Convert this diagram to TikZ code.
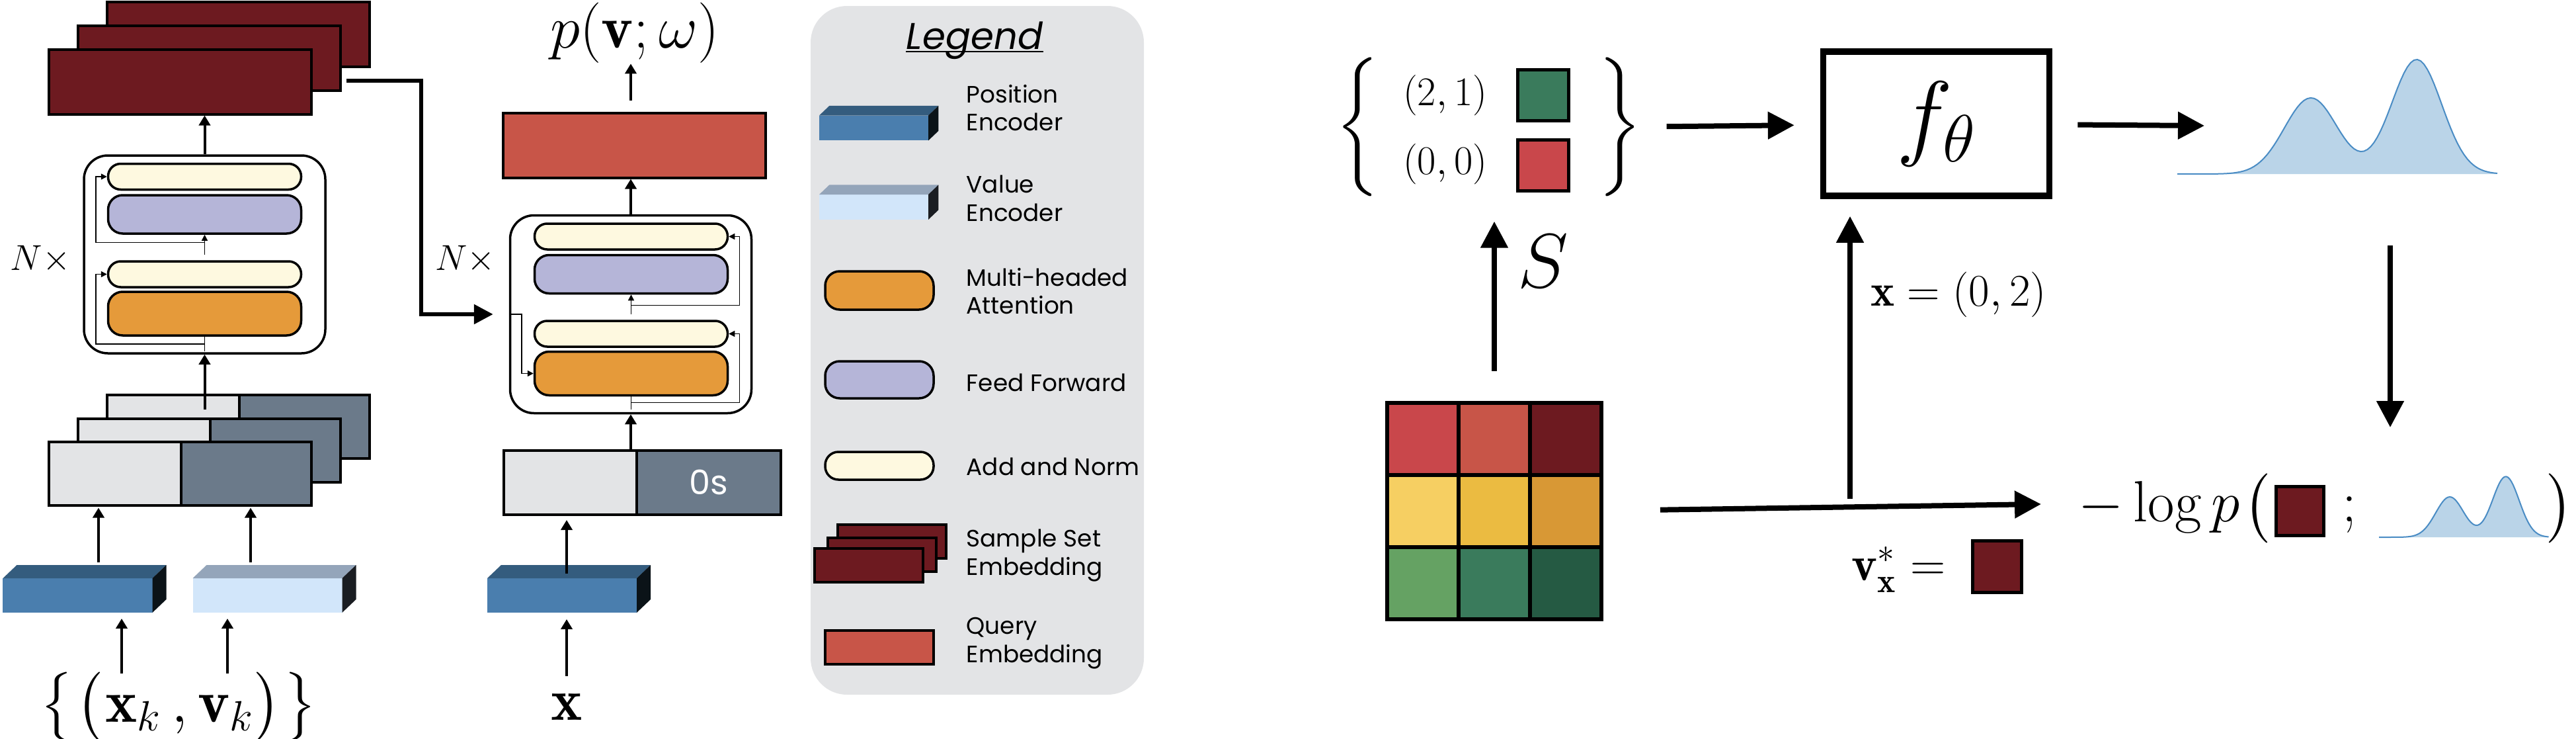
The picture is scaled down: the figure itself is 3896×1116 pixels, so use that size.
\documentclass[tikz,border=0pt]{standalone}
\usepackage{fix-cm}
\usepackage{exscale}
\usepackage{fontspec}
\newfontfamily\legfont{Poppins}
\usetikzlibrary{positioning,arrows.meta}

\definecolor{ssered}{RGB}{109,26,32}
\definecolor{qred}{RGB}{200,85,72}
\definecolor{anfill}{RGB}{254,249,224}
\definecolor{fffill}{RGB}{181,181,216}
\definecolor{mhafill}{RGB}{229,154,58}
\definecolor{lgray}{RGB}{227,228,230}
\definecolor{slate}{RGB}{107,122,138}
\definecolor{posfront}{RGB}{74,126,174}
\definecolor{postop}{RGB}{52,92,126}
\definecolor{posside}{RGB}{11,19,24}
\definecolor{valfront}{RGB}{210,230,250}
\definecolor{valtop}{RGB}{148,165,186}
\definecolor{valside}{RGB}{26,29,34}
\definecolor{densfill}{RGB}{186,212,232}
\definecolor{densline}{RGB}{74,140,196}
\definecolor{g11}{RGB}{201,71,75}
\definecolor{g12}{RGB}{200,85,72}
\definecolor{g13}{RGB}{109,26,32}
\definecolor{g21}{RGB}{246,207,98}
\definecolor{g22}{RGB}{235,187,65}
\definecolor{g23}{RGB}{216,152,53}
\definecolor{g31}{RGB}{101,162,99}
\definecolor{g32}{RGB}{58,123,92}
\definecolor{g33}{RGB}{37,90,67}

\newcommand{\bigdel}[1]{{\nulldelimiterspace=0pt\left#1\vrule height .85em depth .35em width 0pt\right.}}
\newcommand{\bigopen}[1]{\mathopen{\bigdel{#1}}}
\newcommand{\bigclose}[1]{\mathclose{\bigdel{#1}}}

\tikzset{
  slab/.pic={
    \fill[#1front] (-113,-26) rectangle (113,26);
    \fill[#1top] (-113,-26) -- (-92,-46) -- (134,-46) -- (113,-26) -- cycle;
    \fill[#1side] (113,-26) -- (134,-46) -- (134,6) -- (113,26) -- cycle;
    \coordinate (-s) at (0,26);
  },
  dens/.pic={
    \fill[densfill] (0,0) -- plot[domain=0:484,samples=97] (\x,{-bump(\x)}) -- (484,0) -- cycle;
    \draw[densline, line width=0.2mm] plot[domain=0:484,samples=97] (\x,{-bump(\x)});
  }
}

\begin{document}
\begin{tikzpicture}[x=0.1mm, y=-0.1mm,
  declare function={bump(\t)=115*exp(-min(20,((\t-202)/40)*((\t-202)/40)/2))+173*exp(-min(20,((\t-362)/38)*((\t-362)/38)/2));},
  txt/.style={inner sep=0},
  blk/.style={draw, line width=0.35mm, rounded corners=3.6mm, minimum width=36.5mm, minimum height=29.9mm, inner sep=0},
  an/.style={draw, line width=0.35mm, rounded corners=1.9mm, fill=anfill, minimum width=29.2mm, minimum height=3.9mm, inner sep=0},
  ff/.style={an, fill=fffill, rounded corners=2.2mm, minimum height=5.8mm},
  mha/.style={an, fill=mhafill, rounded corners=2.2mm, minimum height=6.6mm},
  sse/.style={draw, line width=0.4mm, fill=ssered, minimum width=39.7mm, minimum height=9.8mm, inner sep=0},
  half/.style={draw, line width=0.4mm, minimum height=9.6mm, inner sep=0, outer sep=0},
  sq/.style={draw, line width=0.5mm, minimum width=7.7mm, minimum height=7.7mm, inner sep=0},
  cell/.style={draw, line width=0.6mm, minimum width=10.8mm, minimum height=10.9mm, inner sep=0, outer sep=0},
  legtxt/.style={inner sep=0, align=left, font=\legfont\fontsize{10.2}{12.2}\selectfont},
  arr/.style={-{Triangle[length=1.5mm,width=1.7mm]}, line width=0.4mm},
  res/.style={line width=0.15mm},
  resarr/.style={res, -{Triangle[length=0.9mm,width=0.9mm]}},
  link/.style={line width=0.6mm, -{Triangle[length=2.9mm,width=2.9mm]}},
  bigarr/.style={line width=0.8mm, -{Triangle[length=4mm,width=4mm]}}]
\useasboundingbox (0,0) rectangle (3896,1116);

\node[sse] (ss3) at (360.5,52) {};
\node[sse] (ss2) at (316,87.5) {};
\node[sse] (ss1) at (272.5,123.5) {};

\node[blk] (enc) at (309.5,384.5) {};
\node[an] (ean2) at (309.5,267) {};
\node[ff] (eff) at (309.5,324) {};
\node[an] (ean1) at (309.5,414.5) {};
\node[mha] (emha) at (309.5,474) {};
\node[txt, font=\fontsize{15.5}{18}\selectfont, left=1.8mm of enc, yshift=-0.75mm] (en) {$N\times$};
\draw[res] (emha.south) -- ([yshift=-2.2mm]emha.south);
\draw[resarr] ([yshift=-1.1mm]emha.south) -| ([xshift=-1.7mm]ean1.west) -- (ean1.west);
\draw[resarr] ([yshift=0.8mm]ean1.north) -- (eff.south);
\draw[resarr] ([yshift=2.7mm]ean1.north) -| ([xshift=-1.7mm]ean2.west) -- (ean2.west);

\node[half, fill=lgray, minimum width=20mm] (cat3l) at (262,644.5) {};
\node[half, fill=slate, minimum width=19.7mm, right=0pt of cat3l] (cat3r) {};
\node[half, fill=lgray, minimum width=20mm] (cat2l) at (218,680.5) {};
\node[half, fill=slate, minimum width=19.7mm, right=0pt of cat2l] (cat2r) {};
\node[half, fill=lgray, minimum width=20mm] (cat1l) at (174,715.5) {};
\node[half, fill=slate, minimum width=19.7mm, right=0pt of cat1l] (cat1r) {};

\pic (pe) at (117.5,900) {slab=pos};
\pic (ve) at (404.5,900) {slab=val};
\node[txt, font=\fontsize{26}{31}\selectfont, anchor=base] (ctx) at (272,1091) {$\bigopen\{\bigopen(\mathbf{x}_k\,,\mathbf{v}_k\bigclose)\bigclose\}$};

\coordinate (xk) at (184,1018);
\coordinate (vk) at (344,1018);
\coordinate (pa) at (149,850);
\coordinate (va) at (379,850);
\coordinate (ein) at (309.5,619);
\draw[arr, shorten >=0.9mm] (xk) -- (xk |- pe-s);
\draw[arr, shorten >=0.9mm] (vk) -- (vk |- ve-s);
\draw[arr, shorten >=0.4mm] (pa) -- (pa |- cat1l.south);
\draw[arr, shorten >=0.4mm] (va) -- (va |- cat1r.south);
\draw[arr] (ein) -- (enc.south);
\draw[arr] (enc.north) -- (enc.north |- ss1.south);

\node[blk] (dec) at (954,475) {};
\node[an] (dan2) at (954.5,357.5) {};
\node[ff] (dff) at (954.5,414.5) {};
\node[an] (dan1) at (954.5,504.5) {};
\node[mha] (dmha) at (954.5,564.5) {};
\node[txt, font=\fontsize{15.5}{18}\selectfont, left=2mm of dec, yshift=8.3mm] (dn) {$N\times$};
\draw[res] (dmha.south) -- ([yshift=-2mm]dmha.south);
\draw[resarr] ([yshift=-0.9mm]dmha.south) -| ([xshift=1.6mm]dan1.east) -- (dan1.east);
\draw[resarr] ([yshift=0.8mm]dan1.north) -- (dff.south);
\draw[resarr] ([yshift=2.2mm]dan1.north) -| ([xshift=1.6mm]dan2.east) -- (dan2.east);
\draw[resarr] (dec.west) -| ([xshift=-1.8mm]dmha.west) -- (dmha.west);

\coordinate (bend) at (637,475);
\draw[link, shorten >=2.4mm] ([xshift=0.7mm,yshift=-3.45mm]ss2.east) -| (bend) -- (dec.west);

\node[sse, fill=qred] (query) at (959.5,219.5) {};
\node[txt, font=\fontsize{26}{31}\selectfont] (pv) at (960,50) {$p(\mathbf{v};\omega)$};
\draw[arr] (dec.north) -- (dec.north |- query.south);
\draw[arr, shorten <=1.7mm] (dec.north |- query.north) -- (dec.north |- pv.south);

\node[half, fill=lgray, minimum width=20.1mm, minimum height=9.7mm] (dcatl) at (862.5,729.5) {};
\node[half, fill=slate, minimum width=21.8mm, minimum height=9.7mm, right=0pt of dcatl, text=white, font=\legfont\fontsize{14.5}{17}\selectfont] (dcatr) {0s};
\draw[arr] (dec.south |- dcatl.north) -- (dec.south);
\pic (dpe) at (850,900) {slab=pos};
\coordinate (dpa) at (857,867);
\draw[arr, shorten >=0.8mm] (dpa) -- (dpa |- dcatl.south);
\node[txt, font=\fontsize{25.5}{30}\selectfont, anchor=base] (xq) at (857,1088) {$\mathbf{x}$};
\draw[arr, shorten <=2.6mm, shorten >=1mm] (xq.north) -- (xq.north |- dpe-s);

\node[fill=lgray, rounded corners=5.5mm, minimum width=50.4mm, minimum height=104.1mm, inner sep=0] (leg) at (1478,529.5) {};
\node[txt, font=\legfont\itshape\fontsize{16}{19}\selectfont, anchor=base] (legt) at (1474,75) {Legend};
\draw[line width=0.2mm] ([yshift=-0.3mm]legt.base west) -- ([yshift=-0.3mm]legt.base east);
\pic[scale=0.73] (lpe) at (1321.5,193.5) {slab=pos};
\pic[scale=0.73] (lve) at (1321.5,313) {slab=val};
\node[mha, minimum width=16.4mm, minimum height=5.8mm] (lmha) at (1330,439) {};
\node[ff, minimum width=16.4mm, minimum height=5.6mm] (lff) at (1330,574) {};
\node[an, minimum width=16.4mm, minimum height=4.2mm, rounded corners=2mm] (lan) at (1330,704) {};
\node[sse, minimum width=16.4mm, minimum height=5.1mm] (lss3) at (1349,818.5) {};
\node[sse, minimum width=16.4mm, minimum height=5.1mm] (lss2) at (1333.5,838.5) {};
\node[sse, minimum width=16.4mm, minimum height=5.1mm] (lss1) at (1314,854) {};
\node[sse, fill=qred, minimum width=16.4mm, minimum height=5.1mm] (lq) at (1330,978.5) {};
\node[legtxt, anchor=west] (lt1) at (1461,163) {Position\\Encoder};
\node[legtxt, anchor=west] (lt2) at (1461,300) {Value\\Encoder};
\node[legtxt, anchor=west] (lt3) at (1461,440) {Multi-headed\\Attention};
\node[legtxt, anchor=base west] (lt4) at (1461,591) {Feed Forward};
\node[legtxt, anchor=base west] (lt5) at (1461,718) {Add and Norm};
\node[legtxt, anchor=west] (lt6) at (1461,840) {Sample Set\\Embedding};
\node[legtxt, anchor=west] (lt7) at (1461,972) {Query\\Embedding};

\node[txt, font=\fontsize{17.5}{21}\selectfont] (p21) at (2185.5,144) {$(2,1)$};
\node[txt, font=\fontsize{17.5}{21}\selectfont] (p00) at (2185.5,248.5) {$(0,0)$};
\node[sq, fill=g32] (sg) at (2333.5,143.5) {};
\node[sq, fill=g11] (sr) at (2333.5,250) {};
\node[txt, font=\fontsize{32}{38}\selectfont] (lb) at (2055,192) {$\left\{\vrule height 37.3pt depth 21.3pt width 0pt\right.$};
\node[txt, font=\fontsize{32}{38}\selectfont] (rb) at (2448,192) {$\left.\vrule height 37.3pt depth 21.3pt width 0pt\right\}$};

\node[draw, line width=0.95mm, minimum width=34.2mm, minimum height=21.8mm, inner sep=0, font=\fontsize{41}{49}\selectfont] (fb) at (2928.5,187) {$f_\theta$};
\draw[bigarr, shorten <=3.7mm, shorten >=3.9mm] (rb) -- (fb);

\pic at (3293,263) {dens};
\coordinate (dtip) at (3334,190);
\draw[bigarr, shorten <=3.8mm] (fb) -- (dtip);

\node[cell, fill=g11] (c11) at (2152,663) {};
\node[cell, fill=g12, right=0pt of c11] (c12) {};
\node[cell, fill=g13, right=0pt of c12] (c13) {};
\node[cell, fill=g21, below=0pt of c11] (c21) {};
\node[cell, fill=g22, right=0pt of c21] (c22) {};
\node[cell, fill=g23, right=0pt of c22] (c23) {};
\node[cell, fill=g31, below=0pt of c21] (c31) {};
\node[cell, fill=g32, right=0pt of c31] (c32) {};
\node[cell, fill=g33, right=0pt of c32] (c33) {};

\draw[bigarr, shorten <=4.8mm, shorten >=3.7mm] (c12.north) -- (c12.north |- lb.south);
\node[txt, font=\fontsize{33}{40}\selectfont] (slbl) at (2334,395) {$S$};

\coordinate (xq0) at (2798,754);
\draw[bigarr, shorten >=2.6mm] (xq0) -- (xq0 |- fb.south);
\node[txt, font=\fontsize{19.5}{23}\selectfont, anchor=west] (xlbl) at (2829,445) {$\mathbf{x} =(0,2)$};

\coordinate (ltip) at (3087,762);
\draw[bigarr, shorten <=8.9mm] (c23.east) -- (ltip);
\node[txt, font=\fontsize{21}{25}\selectfont, anchor=base west] (vlbl) at (2800,877) {$\mathbf{v}^*_{\mathbf{x}} =$};
\node[sq, fill=g13, minimum width=7.4mm, minimum height=7.8mm] (vsq) at (3020,856) {};

\coordinate (dd1) at (3615,371);
\coordinate (dd2) at (3615,646);
\draw[bigarr] (dd1) -- (dd2);

\node[txt, font=\fontsize{25}{30}\selectfont, anchor=base east] (lp) at (3388,788) {$-\log p$};
\node[txt, font=\fontsize{25}{30}\selectfont, anchor=west] (lpo) at (3393,768.5) {$\bigdel($};
\node[sq, fill=g13, minimum width=7.2mm, minimum height=7.4mm] (lsq) at (3478.5,772.5) {};
\node[txt, font=\fontsize{25}{30}\selectfont, anchor=base west] (semi) at (3542,788) {$;$};
\pic[scale=0.53] at (3598,812) {dens};
\node[txt, font=\fontsize{25}{30}\selectfont, anchor=east] (rp) at (3896,768.5) {$\bigdel)$};
\end{tikzpicture}
\end{document}
